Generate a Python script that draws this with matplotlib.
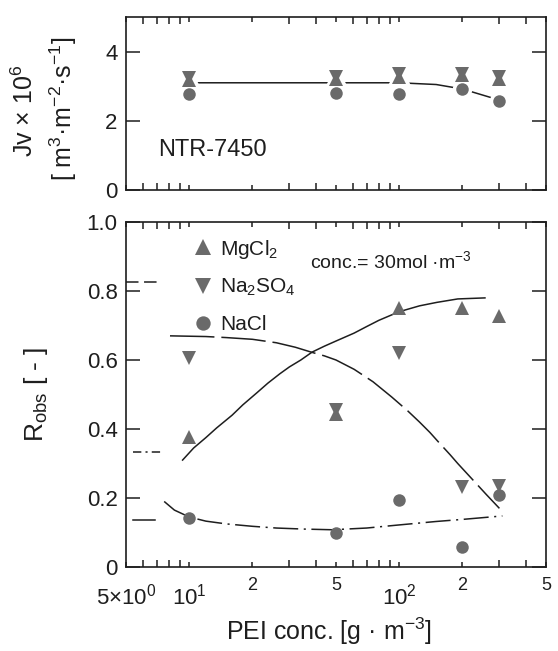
import numpy as np
import matplotlib.pyplot as plt
from matplotlib.ticker import FixedLocator, NullFormatter

plt.rcParams['font.family'] = ['Liberation Sans', 'DejaVu Sans']
plt.rcParams['mathtext.fontset'] = 'custom'
plt.rcParams['mathtext.rm'] = 'Liberation Sans'
plt.rcParams['mathtext.it'] = 'Liberation Sans:italic'
plt.rcParams['mathtext.bf'] = 'Liberation Sans:bold'
plt.rcParams['lines.scale_dashes'] = False

ink = '#1e1e1e'
grey = '#6a6a6a'

# PEI concentration [g m-3]
pei = [10, 50, 100, 200, 300]

# upper panel: Jv x 10^6
jv_mgcl2 = [3.18, 3.21, 3.28, 3.32, 3.21]
jv_na2so4 = [3.24, 3.27, 3.34, 3.35, 3.27]
jv_nacl = [2.77, 2.81, 2.78, 2.91, 2.57]
jv_line_x = [10, 50, 100, 150, 200, 300]
jv_line_y = [3.1, 3.1, 3.1, 3.05, 2.92, 2.6]

# lower panel: observed rejection
r_mgcl2 = [0.377, 0.443, 0.75, 0.75, 0.727]
r_na2so4 = [0.605, 0.455, 0.62, 0.232, 0.235]
r_nacl = [0.142, 0.098, 0.194, 0.058, 0.209]

# fitted curves
fit_mg_x = [9.3, 10.5, 12, 13.5, 16, 18, 21, 23.7, 27, 30, 34, 38.5, 44, 50, 61, 70, 80, 100, 125, 151, 190, 256]
fit_mg_y = [0.31, 0.345, 0.375, 0.403, 0.44, 0.47, 0.505, 0.533, 0.56, 0.58, 0.6, 0.623, 0.64, 0.655, 0.678,
            0.697, 0.715, 0.74, 0.757, 0.767, 0.777, 0.78]
fit_na_x = [8.1, 12, 15, 20, 26, 32, 38.5, 44, 50, 61, 75, 92, 110, 125, 140, 155, 175, 190, 220, 260, 300]
fit_na_y = [0.67, 0.668, 0.665, 0.66, 0.65, 0.637, 0.622, 0.612, 0.6, 0.573, 0.537, 0.493, 0.452, 0.42,
            0.39, 0.36, 0.325, 0.3, 0.258, 0.21, 0.17]
fit_cl_x = [7.6, 8.5, 10, 12, 15, 20, 26, 35, 48, 70, 100, 150, 200, 310]
fit_cl_y = [0.19, 0.165, 0.145, 0.133, 0.125, 0.118, 0.113, 0.11, 0.108, 0.113, 0.122, 0.132, 0.138, 0.148]

# short reference marks at the left edge
stub_y = [0.826, 0.333, 0.136]
stub_x0 = [5.0, 5.4, 5.4]
stub_x1 = [7.2, 7.3, 6.85]
stub_dash = [(0, (9, 4)), (0, (6, 3, 1.5, 3)), '-']

# x ticks
major_x = [5, 10, 20, 50, 100, 200, 500]
major_len = [0, 11, 7, 11, 11, 7, 0]
major_lab = [r'5×10$^{0}$', r'10$^{1}$', '2', '5', r'10$^{2}$', '2', '5']
decade = [True, True, False, False, True, False, False]
minor_x = [6, 7, 8, 9, 30, 40, 60, 70, 80, 90, 300, 400]

fig = plt.figure(figsize=(5.58, 6.51), dpi=100)
ax1 = fig.add_axes([0.2258, 0.7081, 0.7527, 0.2657])
ax2 = fig.add_axes([0.2258, 0.1290, 0.7527, 0.5300])


def style_axis(ax, show_labels):
    ax.set_xscale('log')
    ax.set_xlim(5, 500)
    for s in ax.spines.values():
        s.set_linewidth(1.2)
        s.set_color(ink)
    ax.xaxis.set_minor_locator(FixedLocator(minor_x))
    ax.xaxis.set_minor_formatter(NullFormatter())
    ax.tick_params(which='both', direction='in', top=True, right=True,
                   color=ink, labelcolor=ink, width=1.1)
    ax.tick_params(which='minor', length=5)
    ax.tick_params(axis='y', which='major', length=10, labelsize=16, pad=6)
    ax.set_xticks(major_x, major_lab if show_labels else [''] * len(major_x))
    for t, L, big in zip(ax.xaxis.get_major_ticks(), major_len, decade):
        t.tick1line.set_markersize(L)
        t.tick2line.set_markersize(L)
        t.tick1line.set_markeredgewidth(1.1)
        t.tick2line.set_markeredgewidth(1.1)
        t.label1.set_fontsize(16 if big else 13)
        t.set_pad(12 if big else 7)


# ---- upper panel
style_axis(ax1, False)
ax1.set_ylim(0, 5)
ax1.set_yticks([0, 2, 4], ['0', '2', '4'])
ax1.plot(jv_line_x, jv_line_y, color=ink, lw=1.1, zorder=2)
for y, m, ms in [(jv_mgcl2, '^', 9.5), (jv_na2so4, 'v', 9.5), (jv_nacl, 'o', 9)]:
    ax1.plot(pei, y, ls='none', marker=m, ms=ms, mfc='white', mec='white', mew=5, zorder=3)
for y, m, ms in [(jv_mgcl2, '^', 9.5), (jv_na2so4, 'v', 9.5), (jv_nacl, 'o', 9)]:
    ax1.plot(pei, y, ls='none', marker=m, ms=ms, color=grey, mew=0, zorder=4)

ax1.text(0.076, 0.23, 'NTR-7450', transform=ax1.transAxes, fontsize=17,
         color=ink, ha='left', va='center')
ax1.text(-0.24, 0.46, r'Jv × 10$^6$', transform=ax1.transAxes, fontsize=18,
         color=ink, rotation=90, ha='center', va='center')
ax1.text(-0.15, 0.47, r'[ m$^3$·m$^{-2}$·s$^{-1}$]', transform=ax1.transAxes,
         fontsize=18, color=ink, rotation=90, ha='center', va='center')

# ---- lower panel
style_axis(ax2, True)
ax2.set_ylim(0, 1.0)
ax2.set_yticks([0, 0.2, 0.4, 0.6, 0.8, 1.0], ['0', '0.2', '0.4', '0.6', '0.8', '1.0'])

ax2.plot(fit_mg_x, fit_mg_y, color=ink, lw=1.1, zorder=2)
ax2.plot(fit_na_x, fit_na_y, color=ink, lw=1.1, ls=(0, (32, 5)), zorder=2)
ax2.plot(fit_cl_x, fit_cl_y, color=ink, lw=1.1, ls=(0, (18, 4, 1.5, 4)), zorder=2)
for y, x0, x1, d in zip(stub_y, stub_x0, stub_x1, stub_dash):
    ax2.plot([x0, x1], [y, y], color=ink, lw=1.1, ls=d)

h_mg, = ax2.plot(pei, r_mgcl2, ls='none', marker='^', ms=9.5, color=grey, mew=0, zorder=4)
h_na, = ax2.plot(pei, r_na2so4, ls='none', marker='v', ms=9.5, color=grey, mew=0, zorder=4)
h_cl, = ax2.plot(pei, r_nacl, ls='none', marker='o', ms=9, color=grey, mew=0, zorder=4)

ax2.legend([h_mg, h_na, h_cl], [r'MgCl$_2$', r'Na$_2$SO$_4$', 'NaCl'],
           loc='upper left', bbox_to_anchor=(0.158, 0.955), frameon=False,
           fontsize=15, handlelength=1.0, handletextpad=0.35, labelspacing=0.8,
           borderpad=0, borderaxespad=0, markerscale=1.15, labelcolor=ink)

ax2.text(0.437, 0.887, r'conc.= 30mol ·m$^{-3}$', transform=ax2.transAxes,
         fontsize=14, color=ink, ha='left', va='center')

ax2.set_ylabel(r'R$_{\rm obs}$ [ - ]', fontsize=19, color=ink)
ax2.yaxis.set_label_coords(-0.18, 0.5)
ax2.set_xlabel(r'PEI conc. [g · m$^{-3}$]', fontsize=18, color=ink)
ax2.xaxis.set_label_coords(0.482, -0.14)

fig.savefig('out.png', dpi=100)
